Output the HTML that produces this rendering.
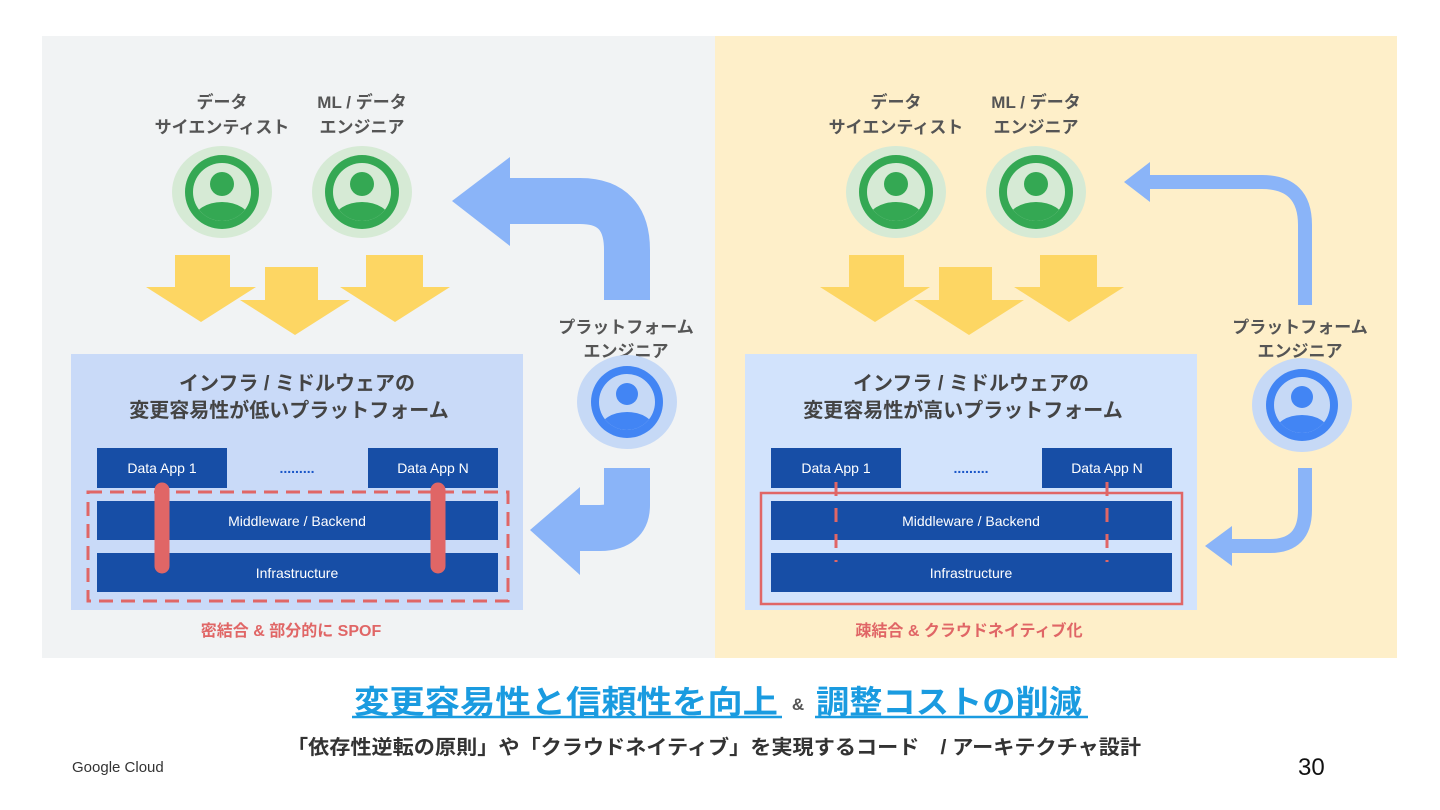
<!DOCTYPE html>
<html><head><meta charset="utf-8"><style>
html,body{margin:0;padding:0;background:#fff;}
svg{display:block;}
text{font-family:"Liberation Sans","Noto Sans CJK JP",sans-serif;}
</style></head><body>
<svg width="1440" height="810" viewBox="0 0 1440 810" xmlns="http://www.w3.org/2000/svg">
<defs>
<clipPath id="cg"><circle cx="0" cy="0" r="29"/></clipPath>
<g id="pg">
  <ellipse cx="0" cy="0" rx="50" ry="46" fill="#d6ead5"/>
  <circle cx="0" cy="0" r="37" fill="#34a853"/>
  <circle cx="0" cy="0" r="29" fill="#d6ead5"/>
  <g clip-path="url(#cg)"><circle cx="0" cy="-8" r="12" fill="#34a853"/><ellipse cx="0" cy="28" rx="28" ry="18" fill="#34a853"/></g>
</g>
<clipPath id="cb"><circle cx="0" cy="0" r="28"/></clipPath>
<g id="pb">
  <ellipse cx="0" cy="0" rx="50" ry="47" fill="#c6d9f6"/>
  <circle cx="0" cy="0" r="36" fill="#4285f4"/>
  <circle cx="0" cy="0" r="28" fill="#c6d9f6"/>
  <g clip-path="url(#cb)"><circle cx="0" cy="-8" r="11" fill="#4285f4"/><ellipse cx="0" cy="27" rx="27" ry="17" fill="#4285f4"/></g>
</g>
<g id="ya" fill="#fdd663">
  <polygon points="175,255 230,255 230,287 256,287 201,322 146,287 175,287"/>
  <polygon points="265,267 318,267 318,300 350,300 295,335 240,300 265,300"/>
  <polygon points="366,255 423,255 423,287 450,287 395,322 340,287 366,287"/>
</g>
</defs>
<rect x="42" y="36" width="673" height="622" fill="#f1f3f4"/>
<rect x="715" y="36" width="682" height="622" fill="#feefc9"/>

<!-- LEFT -->
<g font-weight="bold" font-size="17" fill="#555" text-anchor="middle">
<text x="222" y="108">データ</text><text x="222" y="133">サイエンティスト</text>
<text x="362" y="108">ML / データ</text><text x="362" y="133">エンジニア</text>
<text x="626" y="333">プラットフォーム</text><text x="626" y="357">エンジニア</text>
</g>
<use href="#pg" x="222" y="192"/>
<use href="#pg" x="362" y="192"/>
<use href="#ya"/>
<path d="M627,300 V250 Q627,201 580,201 H505" fill="none" stroke="#8ab4f8" stroke-width="46"/>
<polygon points="452,201 510,157 510,246" fill="#8ab4f8"/>
<path d="M627,468 V505 Q627,528 600,528 H575" fill="none" stroke="#8ab4f8" stroke-width="46"/>
<polygon points="530,530 580,487 580,575" fill="#8ab4f8"/>
<use href="#pb" x="627" y="402"/>

<rect x="71" y="354" width="452" height="256" fill="#c9daf8"/>
<g font-weight="bold" font-size="20" fill="#444" text-anchor="middle">
<text x="297" y="390">インフラ / ミドルウェアの</text>
<text x="289" y="417">変更容易性が低いプラットフォーム</text>
</g>
<g fill="#174ea6">
<rect x="97" y="448" width="130" height="40"/><rect x="368" y="448" width="130" height="40"/>
<rect x="97" y="501" width="401" height="39"/><rect x="97" y="553" width="401" height="39"/>
</g>
<g fill="#fff" font-size="14" text-anchor="middle">
<text x="162" y="473">Data App 1</text><text x="433" y="473">Data App N</text>
<text x="297" y="526">Middleware / Backend</text><text x="297" y="578">Infrastructure</text>
</g>
<text x="297" y="473" fill="#1a56c8" font-size="14" font-weight="bold" text-anchor="middle">.........</text>
<rect x="88" y="492" width="420" height="109" fill="none" stroke="#e06666" stroke-width="3" stroke-dasharray="14,8"/>
<line x1="162" y1="490" x2="162" y2="566" stroke="#e06666" stroke-width="15" stroke-linecap="round"/>
<line x1="438" y1="490" x2="438" y2="566" stroke="#e06666" stroke-width="15" stroke-linecap="round"/>
<text x="291" y="636" fill="#e06666" font-weight="bold" font-size="16" text-anchor="middle">密結合 &amp; 部分的に SPOF</text>

<!-- RIGHT -->
<g font-weight="bold" font-size="17" fill="#555" text-anchor="middle">
<text x="896" y="108">データ</text><text x="896" y="133">サイエンティスト</text>
<text x="1036" y="108">ML / データ</text><text x="1036" y="133">エンジニア</text>
<text x="1300" y="333">プラットフォーム</text><text x="1300" y="357">エンジニア</text>
</g>
<use href="#pg" x="896" y="192"/>
<use href="#pg" x="1036" y="192"/>
<use href="#ya" x="674"/>
<path d="M1305,305 V225 Q1305,182 1262,182 H1145" fill="none" stroke="#8ab4f8" stroke-width="14"/>
<polygon points="1124,182 1150,162 1150,202" fill="#8ab4f8"/>
<path d="M1305,468 V510 Q1305,546 1270,546 H1225" fill="none" stroke="#8ab4f8" stroke-width="14"/>
<polygon points="1205,546 1232,526 1232,566" fill="#8ab4f8"/>
<use href="#pb" x="1302" y="405"/>

<rect x="745" y="354" width="452" height="256" fill="#d2e3fc"/>
<g font-weight="bold" font-size="20" fill="#444" text-anchor="middle">
<text x="971" y="390">インフラ / ミドルウェアの</text>
<text x="963" y="417">変更容易性が高いプラットフォーム</text>
</g>
<g fill="#174ea6">
<rect x="771" y="448" width="130" height="40"/><rect x="1042" y="448" width="130" height="40"/>
<rect x="771" y="501" width="401" height="39"/><rect x="771" y="553" width="401" height="39"/>
</g>
<g fill="#fff" font-size="14" text-anchor="middle">
<text x="836" y="473">Data App 1</text><text x="1107" y="473">Data App N</text>
<text x="971" y="526">Middleware / Backend</text><text x="971" y="578">Infrastructure</text>
</g>
<text x="971" y="473" fill="#1a56c8" font-size="14" font-weight="bold" text-anchor="middle">.........</text>
<rect x="761" y="493" width="421" height="111" fill="none" stroke="#e06666" stroke-width="2.5"/>
<line x1="836" y1="482" x2="836" y2="562" stroke="#e06666" stroke-width="3" stroke-dasharray="14,12"/>
<line x1="1107" y1="482" x2="1107" y2="562" stroke="#e06666" stroke-width="3" stroke-dasharray="14,12"/>
<text x="969" y="636" fill="#e06666" font-weight="bold" font-size="16" text-anchor="middle">疎結合 &amp; クラウドネイティブ化</text>

<!-- bottom -->
<text x="354" y="713" fill="#1a9be0" font-weight="bold" font-size="32" textLength="424" lengthAdjust="spacingAndGlyphs">変更容易性と信頼性を向上</text>
<line x1="352" y1="717" x2="782" y2="717" stroke="#1a9be0" stroke-width="2.5"/>
<text x="798" y="710" fill="#555" font-weight="bold" font-size="17" text-anchor="middle">&amp;</text>
<text x="816" y="713" fill="#1a9be0" font-weight="bold" font-size="32" textLength="266" lengthAdjust="spacingAndGlyphs">調整コストの削減</text>
<line x1="815" y1="717" x2="1088" y2="717" stroke="#1a9be0" stroke-width="2.5"/>
<text x="287" y="754" fill="#333" font-weight="bold" font-size="20" textLength="854" lengthAdjust="spacingAndGlyphs">「依存性逆転の原則」や「クラウドネイティブ」を実現するコード　/ アーキテクチャ設計</text>
<text x="72" y="772" fill="#333" font-size="15">Google Cloud</text>
<text x="1298" y="775" fill="#111" font-size="24">30</text>
</svg>
</body></html>
